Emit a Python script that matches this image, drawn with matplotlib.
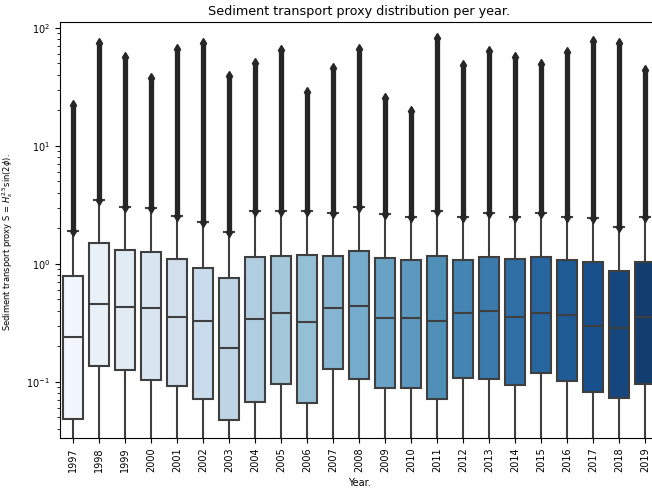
import colorsys

import matplotlib
matplotlib.use("Agg")
import matplotlib.pyplot as plt
import numpy as np

# Per-year box statistics of the sediment transport proxy
years = list(range(1997, 2020))
q1 = [0.049, 0.137, 0.126, 0.103, 0.092, 0.071, 0.048, 0.067, 0.0955, 0.066,
      0.129, 0.106, 0.0895, 0.0895, 0.0713, 0.107, 0.106, 0.095, 0.120, 0.101,
      0.0817, 0.0728, 0.0955]
median = [0.242, 0.461, 0.432, 0.427, 0.353, 0.331, 0.195, 0.340, 0.384, 0.324,
          0.421, 0.438, 0.349, 0.349, 0.331, 0.382, 0.397, 0.353, 0.384, 0.367,
          0.300, 0.285, 0.353]
q3 = [0.79, 1.49, 1.30, 1.26, 1.10, 0.925, 0.765, 1.15, 1.17, 1.20,
      1.17, 1.28, 1.12, 1.07, 1.17, 1.07, 1.14, 1.10, 1.15, 1.07,
      1.04, 0.867, 1.04]
whisker_high = [1.90, 3.49, 3.06, 2.96, 2.55, 2.26, 1.85, 2.81, 2.81, 2.83,
                2.72, 3.02, 2.65, 2.52, 2.81, 2.52, 2.72, 2.52, 2.72, 2.52,
                2.47, 2.05, 2.50]
whisker_low = [0.001] * len(years)
maximum = [22.2, 74.0, 57.0, 37.5, 66.0, 75.0, 38.7, 50.0, 65.0, 28.8,
           46.0, 66.0, 25.4, 19.9, 81.8, 48.6, 63.0, 57.0, 49.0, 62.0,
           78.0, 75.0, 44.0]

# Sequential blue palette, slightly desaturated
n = len(years)
cmap = plt.get_cmap("Blues")
palette = []
for v in np.linspace(0, 1, n + 2)[1:-1]:
    r, g, b, _ = cmap(v)
    h, l, s = colorsys.rgb_to_hls(r, g, b)
    palette.append(colorsys.hls_to_rgb(h, l, s * 0.8))
line_gray = "#3f3f3f"
flier_color = "#262626"

fig = plt.figure(figsize=(6.52, 4.91), dpi=100)
ax = fig.add_axes([60 / 652, 1 - 438 / 491, 598 / 652, 416 / 491])

stats = []
for i, y in enumerate(years):
    stats.append(dict(label=str(y), q1=q1[i], med=median[i], q3=q3[i],
                      whislo=whisker_low[i], whishi=whisker_high[i], fliers=[]))

pos = np.arange(n)
bp = ax.bxp(stats, positions=pos, widths=0.8, patch_artist=True,
            showfliers=False, manage_ticks=False,
            boxprops=dict(edgecolor=line_gray, linewidth=1.5),
            medianprops=dict(color=line_gray, linewidth=1.5),
            whiskerprops=dict(color=line_gray, linewidth=1.5),
            capprops=dict(color=line_gray, linewidth=1.5))
for patch, c in zip(bp["boxes"], palette):
    patch.set_facecolor(c)

# Outliers: densely packed diamonds from the upper whisker to the maximum
ax.vlines(pos, whisker_high, maximum, color=flier_color, linewidth=3.8, zorder=3)
ax.plot(pos, maximum, linestyle="none", marker="d", markersize=5.5,
        color=flier_color, zorder=3)
ax.plot(pos, whisker_high, linestyle="none", marker="d", markersize=5,
        color=flier_color, zorder=3)

ax.set_yscale("log")
ax.set_ylim(0.0335, 112)
ax.set_xlim(-0.5, n - 0.5)
ax.set_xticks(pos)
ax.set_xticklabels([str(y) for y in years], rotation=90, fontsize=7)
ax.tick_params(axis="y", labelsize=7)
ax.spines["right"].set_visible(False)

ax.set_xlabel("Year.", fontsize=7)
ax.set_ylabel(r"Sediment transport proxy S = $H_s^{2.5}$sin(2$\phi$).",
              fontsize=6)
ax.yaxis.set_label_coords(-0.075, 0.47)
ax.set_title("Sediment transport proxy distribution per year.", fontsize=9.2,
             pad=5)

fig.savefig("out.png", dpi=100)
